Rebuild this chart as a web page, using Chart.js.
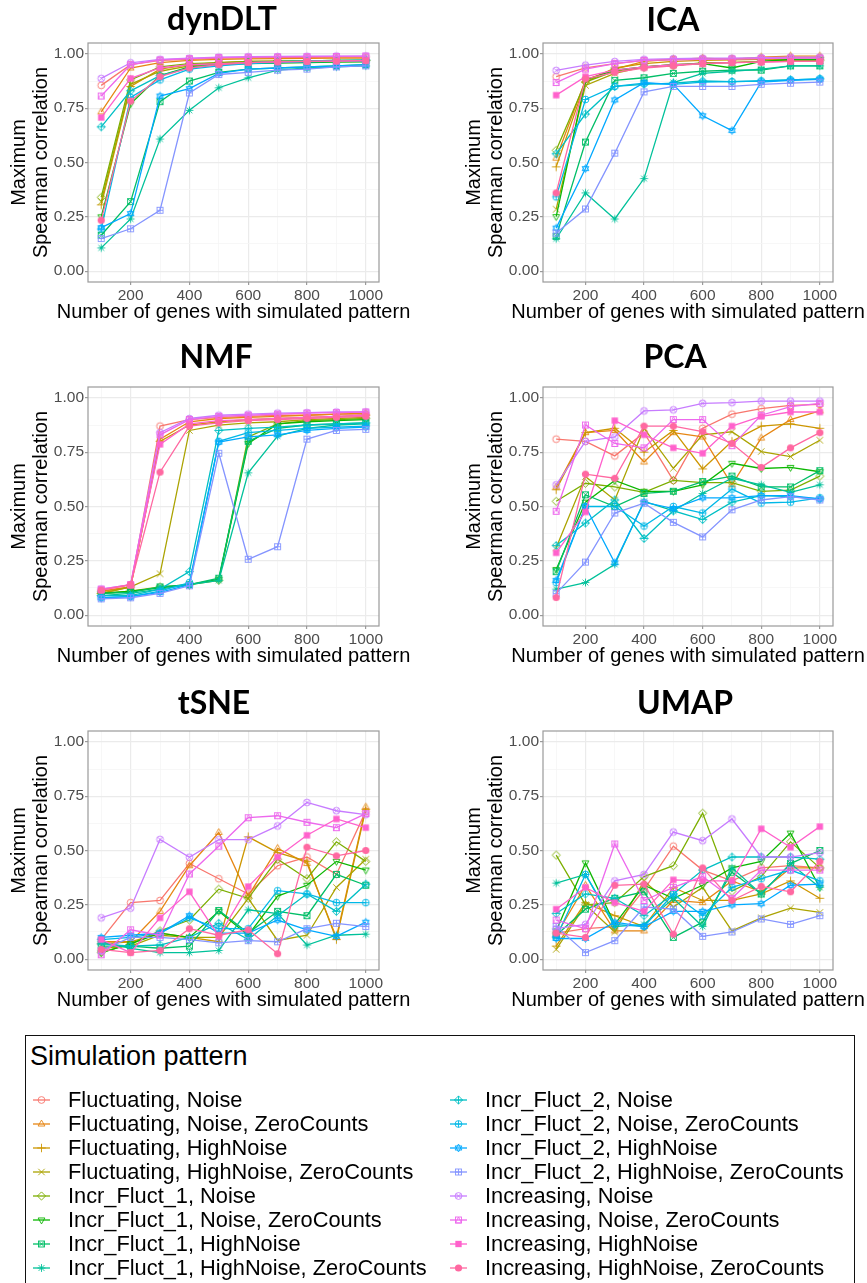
<!DOCTYPE html>
<html>
<head>
<meta charset="utf-8">
<script src="https://cdn.jsdelivr.net/npm/chart.js@4.4.1/dist/chart.umd.min.js"></script>
<style>
  html, body { margin: 0; padding: 0; background: #fff; width: 867px; height: 1283px; overflow: hidden; }
  canvas.panel { position: absolute; }
  #legend { position: absolute; left: 25px; top: 1035px; width: 828px; height: 270px; border: 1.5px solid #111;
            font-family: 'Liberation Sans', Arial, sans-serif; color: #000; }
  #legend .title { position: absolute; left: 4px; top: 5px; font-size: 27px; }
  #legend .item { position: absolute; height: 24px; display: flex; align-items: center; font-size: 21.8px; white-space: nowrap; }
  #legend .item canvas { margin-right: 17px; }
</style>
</head>
<body>
<canvas id="c0" class="panel"></canvas>
<canvas id="c1" class="panel"></canvas>
<canvas id="c2" class="panel"></canvas>
<canvas id="c3" class="panel"></canvas>
<canvas id="c4" class="panel"></canvas>
<canvas id="c5" class="panel"></canvas>
<div id="legend"><div class="title">Simulation pattern</div></div>
<script>
const genes = [100, 200, 300, 400, 500, 600, 700, 800, 900, 1000];
const xTicks = [100, 200, 300, 400, 500, 600, 700, 800, 900, 1000];
const yTicks = [0, 0.125, 0.25, 0.375, 0.5, 0.625, 0.75, 0.875, 1];

const patterns = [
  'Fluctuating, Noise',
  'Fluctuating, Noise, ZeroCounts',
  'Fluctuating, HighNoise',
  'Fluctuating, HighNoise, ZeroCounts',
  'Incr_Fluct_1, Noise',
  'Incr_Fluct_1, Noise, ZeroCounts',
  'Incr_Fluct_1, HighNoise',
  'Incr_Fluct_1, HighNoise, ZeroCounts',
  'Incr_Fluct_2, Noise',
  'Incr_Fluct_2, Noise, ZeroCounts',
  'Incr_Fluct_2, HighNoise',
  'Incr_Fluct_2, HighNoise, ZeroCounts',
  'Increasing, Noise',
  'Increasing, Noise, ZeroCounts',
  'Increasing, HighNoise',
  'Increasing, HighNoise, ZeroCounts'
];

// one row per pattern, one value per gene count
const dynDLT = [
  [0.855, 0.95, 0.97, 0.975, 0.98, 0.982, 0.983, 0.984, 0.985, 0.985],
  [0.733, 0.935, 0.96, 0.97, 0.975, 0.977, 0.978, 0.979, 0.98, 0.98],
  [0.305, 0.85, 0.93, 0.95, 0.96, 0.965, 0.967, 0.968, 0.97, 0.97],
  [0.32, 0.86, 0.92, 0.945, 0.955, 0.96, 0.963, 0.965, 0.967, 0.968],
  [0.34, 0.88, 0.94, 0.955, 0.96, 0.965, 0.967, 0.968, 0.97, 0.97],
  [0.25, 0.77, 0.9, 0.94, 0.95, 0.955, 0.958, 0.96, 0.962, 0.963],
  [0.165, 0.32, 0.78, 0.875, 0.915, 0.93, 0.935, 0.94, 0.945, 0.95],
  [0.107, 0.24, 0.608, 0.74, 0.844, 0.89, 0.925, 0.935, 0.94, 0.945],
  [0.664, 0.83, 0.9, 0.935, 0.95, 0.96, 0.965, 0.968, 0.97, 0.972],
  [0.195, 0.8, 0.88, 0.93, 0.945, 0.955, 0.96, 0.963, 0.965, 0.967],
  [0.2, 0.265, 0.806, 0.84, 0.91, 0.93, 0.935, 0.94, 0.945, 0.95],
  [0.15, 0.195, 0.28, 0.82, 0.905, 0.915, 0.925, 0.93, 0.94, 0.945],
  [0.887, 0.959, 0.975, 0.98, 0.985, 0.987, 0.988, 0.989, 0.99, 0.99],
  [0.806, 0.95, 0.972, 0.978, 0.983, 0.985, 0.986, 0.987, 0.988, 0.99],
  [0.707, 0.887, 0.935, 0.95, 0.955, 0.96, 0.963, 0.965, 0.967, 0.97],
  [0.234, 0.783, 0.895, 0.935, 0.95, 0.96, 0.963, 0.965, 0.967, 0.968]
];

const ICA = [
  [0.895, 0.936, 0.955, 0.97, 0.975, 0.977, 0.978, 0.98, 0.982, 0.983],
  [0.52, 0.88, 0.93, 0.965, 0.975, 0.98, 0.975, 0.985, 0.99, 0.99],
  [0.48, 0.87, 0.935, 0.955, 0.965, 0.97, 0.972, 0.975, 0.975, 0.975],
  [0.285, 0.855, 0.91, 0.94, 0.95, 0.955, 0.96, 0.965, 0.968, 0.97],
  [0.556, 0.87, 0.92, 0.94, 0.945, 0.96, 0.96, 0.965, 0.97, 0.97],
  [0.251, 0.88, 0.925, 0.94, 0.95, 0.955, 0.935, 0.965, 0.975, 0.975],
  [0.16, 0.594, 0.878, 0.89, 0.91, 0.92, 0.925, 0.925, 0.945, 0.945],
  [0.149, 0.36, 0.24, 0.426, 0.868, 0.91, 0.92, 0.93, 0.945, 0.945],
  [0.54, 0.723, 0.85, 0.86, 0.865, 0.875, 0.872, 0.875, 0.88, 0.885],
  [0.342, 0.79, 0.85, 0.865, 0.86, 0.87, 0.872, 0.875, 0.88, 0.885],
  [0.198, 0.472, 0.788, 0.867, 0.86, 0.715, 0.647, 0.87, 0.878, 0.883],
  [0.175, 0.286, 0.543, 0.825, 0.85, 0.85, 0.85, 0.86, 0.865, 0.87],
  [0.924, 0.948, 0.965, 0.975, 0.978, 0.98, 0.98, 0.983, 0.985, 0.985],
  [0.868, 0.93, 0.955, 0.97, 0.972, 0.975, 0.976, 0.978, 0.98, 0.98],
  [0.81, 0.895, 0.925, 0.94, 0.95, 0.955, 0.96, 0.962, 0.965, 0.965],
  [0.36, 0.885, 0.915, 0.935, 0.945, 0.955, 0.96, 0.962, 0.965, 0.965]
];

const NMF = [
  [0.11, 0.13, 0.87, 0.9, 0.91, 0.915, 0.92, 0.92, 0.925, 0.925],
  [0.11, 0.13, 0.81, 0.89, 0.905, 0.91, 0.915, 0.92, 0.925, 0.93],
  [0.1, 0.13, 0.8, 0.875, 0.89, 0.9, 0.905, 0.91, 0.915, 0.92],
  [0.1, 0.13, 0.19, 0.85, 0.875, 0.885, 0.89, 0.9, 0.905, 0.91],
  [0.1, 0.11, 0.13, 0.14, 0.16, 0.82, 0.88, 0.895, 0.9, 0.905],
  [0.1, 0.11, 0.125, 0.14, 0.165, 0.79, 0.88, 0.89, 0.895, 0.9],
  [0.1, 0.105, 0.13, 0.14, 0.17, 0.8, 0.86, 0.875, 0.88, 0.885],
  [0.09, 0.1, 0.12, 0.14, 0.16, 0.655, 0.824, 0.86, 0.875, 0.88],
  [0.09, 0.09, 0.12, 0.2, 0.85, 0.86, 0.865, 0.875, 0.88, 0.885],
  [0.08, 0.085, 0.11, 0.15, 0.8, 0.84, 0.85, 0.86, 0.865, 0.87],
  [0.08, 0.085, 0.105, 0.14, 0.796, 0.82, 0.83, 0.85, 0.86, 0.865],
  [0.075, 0.08, 0.1, 0.135, 0.745, 0.257, 0.315, 0.81, 0.85, 0.855],
  [0.12, 0.14, 0.84, 0.905, 0.92, 0.925, 0.93, 0.932, 0.935, 0.935],
  [0.12, 0.14, 0.83, 0.9, 0.915, 0.92, 0.925, 0.93, 0.932, 0.935],
  [0.115, 0.14, 0.786, 0.88, 0.895, 0.9, 0.905, 0.91, 0.915, 0.92],
  [0.115, 0.14, 0.658, 0.87, 0.885, 0.895, 0.9, 0.905, 0.91, 0.915]
];

const PCA = [
  [0.81, 0.8, 0.733, 0.84, 0.62, 0.86, 0.925, 0.95, 0.965, 0.97],
  [0.59, 0.84, 0.85, 0.705, 0.84, 0.82, 0.6, 0.815, 0.9, 0.94],
  [0.577, 0.84, 0.86, 0.75, 0.85, 0.673, 0.8, 0.87, 0.88, 0.86],
  [0.31, 0.638, 0.53, 0.86, 0.676, 0.83, 0.844, 0.753, 0.73, 0.805],
  [0.524, 0.607, 0.59, 0.565, 0.62, 0.61, 0.61, 0.57, 0.575, 0.64],
  [0.21, 0.52, 0.62, 0.57, 0.57, 0.6, 0.699, 0.675, 0.68, 0.66],
  [0.2, 0.554, 0.5, 0.56, 0.57, 0.615, 0.64, 0.59, 0.59, 0.665],
  [0.12, 0.15, 0.234, 0.524, 0.48, 0.56, 0.63, 0.6, 0.565, 0.6],
  [0.32, 0.424, 0.53, 0.353, 0.48, 0.44, 0.52, 0.55, 0.545, 0.535],
  [0.15, 0.5, 0.5, 0.41, 0.5, 0.47, 0.58, 0.516, 0.52, 0.54],
  [0.16, 0.5, 0.241, 0.52, 0.49, 0.54, 0.54, 0.55, 0.55, 0.535],
  [0.1, 0.244, 0.47, 0.515, 0.427, 0.36, 0.485, 0.53, 0.545, 0.53],
  [0.6, 0.8, 0.82, 0.94, 0.945, 0.975, 0.978, 0.985, 0.985, 0.985],
  [0.478, 0.875, 0.79, 0.77, 0.9, 0.9, 0.78, 0.92, 0.96, 0.975],
  [0.287, 0.475, 0.895, 0.83, 0.77, 0.745, 0.87, 0.915, 0.935, 0.935],
  [0.081, 0.649, 0.63, 0.87, 0.87, 0.845, 0.79, 0.68, 0.77, 0.84]
];

const tSNE = [
  [0.09, 0.26, 0.27, 0.44, 0.37, 0.3, 0.43, 0.47, 0.39, 0.68],
  [0.08, 0.08, 0.22, 0.43, 0.583, 0.29, 0.51, 0.44, 0.1, 0.7],
  [0.07, 0.08, 0.12, 0.1, 0.08, 0.563, 0.49, 0.45, 0.09, 0.69],
  [0.05, 0.06, 0.11, 0.1, 0.1, 0.28, 0.086, 0.11, 0.33, 0.46],
  [0.03, 0.07, 0.13, 0.18, 0.322, 0.28, 0.46, 0.37, 0.54, 0.45],
  [0.03, 0.07, 0.12, 0.1, 0.22, 0.11, 0.29, 0.34, 0.45, 0.41],
  [0.06, 0.06, 0.05, 0.06, 0.224, 0.12, 0.22, 0.2, 0.39, 0.34],
  [0.08, 0.05, 0.03, 0.03, 0.04, 0.227, 0.21, 0.065, 0.11, 0.115],
  [0.07, 0.06, 0.065, 0.1, 0.165, 0.09, 0.2, 0.3, 0.22, 0.345],
  [0.09, 0.1, 0.12, 0.19, 0.14, 0.14, 0.315, 0.3, 0.26, 0.26],
  [0.1, 0.11, 0.12, 0.2, 0.12, 0.12, 0.18, 0.135, 0.105, 0.17],
  [0.04, 0.1, 0.1, 0.09, 0.075, 0.085, 0.08, 0.14, 0.165, 0.15],
  [0.19, 0.235, 0.551, 0.469, 0.55, 0.55, 0.613, 0.721, 0.683, 0.665],
  [0.02, 0.135, 0.11, 0.392, 0.52, 0.651, 0.66, 0.63, 0.605, 0.67],
  [0.09, 0.03, 0.19, 0.31, 0.105, 0.334, 0.47, 0.57, 0.645, 0.605],
  [0.045, 0.03, 0.04, 0.14, 0.11, 0.135, 0.025, 0.515, 0.475, 0.5]
];

const UMAP = [
  [0.12, 0.14, 0.15, 0.32, 0.52, 0.41, 0.36, 0.42, 0.43, 0.42],
  [0.11, 0.34, 0.13, 0.13, 0.27, 0.26, 0.36, 0.31, 0.42, 0.42],
  [0.06, 0.26, 0.2, 0.15, 0.33, 0.27, 0.27, 0.3, 0.36, 0.28],
  [0.045, 0.25, 0.125, 0.36, 0.24, 0.33, 0.13, 0.19, 0.235, 0.215],
  [0.479, 0.25, 0.26, 0.38, 0.43, 0.672, 0.313, 0.38, 0.54, 0.42],
  [0.13, 0.443, 0.16, 0.34, 0.28, 0.34, 0.42, 0.45, 0.58, 0.33],
  [0.11, 0.23, 0.28, 0.31, 0.1, 0.17, 0.4, 0.3, 0.44, 0.5],
  [0.35, 0.39, 0.15, 0.16, 0.28, 0.15, 0.42, 0.3, 0.44, 0.33],
  [0.21, 0.3, 0.28, 0.2, 0.3, 0.41, 0.47, 0.47, 0.47, 0.46],
  [0.1, 0.39, 0.16, 0.15, 0.3, 0.2, 0.33, 0.37, 0.41, 0.36],
  [0.095, 0.095, 0.17, 0.15, 0.22, 0.22, 0.25, 0.255, 0.34, 0.345],
  [0.15, 0.03, 0.085, 0.24, 0.23, 0.105, 0.125, 0.185, 0.16, 0.2],
  [0.14, 0.16, 0.36, 0.39, 0.585, 0.545, 0.645, 0.47, 0.47, 0.49],
  [0.18, 0.14, 0.53, 0.27, 0.33, 0.38, 0.28, 0.41, 0.41, 0.41],
  [0.23, 0.33, 0.26, 0.22, 0.365, 0.36, 0.36, 0.6, 0.515, 0.61],
  [0.12, 0.1, 0.34, 0.345, 0.115, 0.42, 0.27, 0.335, 0.31, 0.45]
];

// ggplot-style hue palette: hcl(h, c = 100, l = 65), hues evenly spaced from 15
function hcl(h, c, l) {
  const rad = h * Math.PI / 180;
  const U = c * Math.cos(rad), V = c * Math.sin(rad);
  const Xn = 95.047, Yn = 100, Zn = 108.883;
  const Y = Yn * Math.pow((l + 16) / 116, 3);
  const den = Xn + 15 * Yn + 3 * Zn;
  const u = U / (13 * l) + 4 * Xn / den;
  const v = V / (13 * l) + 9 * Yn / den;
  const X = Y * 9 * u / (4 * v);
  const Z = Y * (12 - 3 * u - 20 * v) / (4 * v);
  const lin = [
    (3.240479 * X - 1.537150 * Y - 0.498535 * Z) / 100,
    (-0.969256 * X + 1.875992 * Y + 0.041556 * Z) / 100,
    (0.055648 * X - 0.204043 * Y + 1.057311 * Z) / 100
  ];
  const hex = lin.map(t => {
    let s = t <= 0.0031308 ? 12.92 * t : 1.055 * Math.pow(t, 1 / 2.4) - 0.055;
    s = Math.max(0, Math.min(1, s));
    return Math.round(s * 255).toString(16).padStart(2, '0');
  });
  return '#' + hex.join('');
}
const colors = patterns.map((p, i) => hcl(15 + 360 / patterns.length * i, 100, 65));

// draws R pch-like shapes 1..16 onto a small canvas
function drawShape(g, shape, cx, cy, r) {
  const line = (x1, y1, x2, y2) => { g.beginPath(); g.moveTo(x1, y1); g.lineTo(x2, y2); g.stroke(); };
  const circle = (fill) => { g.beginPath(); g.arc(cx, cy, r, 0, 2 * Math.PI); fill ? g.fill() : g.stroke(); };
  const sq = r * 0.88;
  const square = (fill) => fill ? g.fillRect(cx - sq, cy - sq, 2 * sq, 2 * sq) : g.strokeRect(cx - sq, cy - sq, 2 * sq, 2 * sq);
  const tri = (dir) => {
    g.beginPath();
    g.moveTo(cx, cy - dir * r * 1.15);
    g.lineTo(cx - r, cy + dir * r * 0.6);
    g.lineTo(cx + r, cy + dir * r * 0.6);
    g.closePath(); g.stroke();
  };
  const diamond = () => {
    g.beginPath();
    g.moveTo(cx, cy - r * 1.2); g.lineTo(cx + r * 1.2, cy); g.lineTo(cx, cy + r * 1.2); g.lineTo(cx - r * 1.2, cy);
    g.closePath(); g.stroke();
  };
  const plus = (k) => { line(cx - k, cy, cx + k, cy); line(cx, cy - k, cx, cy + k); };
  const cross = (k) => { line(cx - k, cy - k, cx + k, cy + k); line(cx - k, cy + k, cx + k, cy - k); };
  switch (shape) {
    case 1: circle(false); break;
    case 2: tri(1); break;
    case 3: plus(r * 1.25); break;
    case 4: cross(r * 0.95); break;
    case 5: diamond(); break;
    case 6: tri(-1); break;
    case 7: square(false); cross(sq); break;
    case 8: plus(r * 1.15); cross(r * 0.85); break;
    case 9: diamond(); plus(r * 1.2); break;
    case 10: circle(false); plus(r); break;
    case 11: tri(1); tri(-1); break;
    case 12: square(false); plus(sq); break;
    case 13: circle(false); cross(r * 0.7); break;
    case 14:
      square(false);
      g.beginPath(); g.moveTo(cx, cy - sq); g.lineTo(cx - sq, cy + sq); g.lineTo(cx + sq, cy + sq); g.closePath(); g.stroke();
      break;
    case 15: square(true); break;
    case 16: circle(true); break;
  }
}

function makeMarker(shape, color) {
  const cv = document.createElement('canvas');
  cv.width = 13; cv.height = 13;
  const g = cv.getContext('2d');
  g.strokeStyle = color; g.fillStyle = color; g.lineWidth = 0.9;
  drawShape(g, shape, 6.5, 6.5, shape >= 15 ? 3.6 : 3.4);
  return cv;
}
const markers = patterns.map((p, i) => makeMarker(i + 1, colors[i]));

const textFamily = "'Liberation Sans', Arial, sans-serif";

// panel frame, panel heading and x axis title (drawn here so it can run wider than the panel)
const panelFrame = {
  id: 'panelFrame',
  afterDraw(chart, args, opts) {
    const { ctx, chartArea: a } = chart;
    ctx.save();
    ctx.strokeStyle = '#9a9a9a';
    ctx.lineWidth = 1.2;
    ctx.strokeRect(a.left, a.top, a.right - a.left, a.bottom - a.top);
    ctx.fillStyle = '#000';
    ctx.textAlign = 'center';
    ctx.textBaseline = 'alphabetic';
    ctx.font = '700 32px Lato, "Open Sans", sans-serif';
    ctx.fillText(opts.text, opts.x, opts.y);
    ctx.font = '20px ' + textFamily;
    ctx.textBaseline = 'middle';
    ctx.fillText(opts.xTitle, (a.left + a.right) / 2, a.bottom + 30.5);
    ctx.restore();
  }
};

const isMajorY = v => Math.abs(v * 4 - Math.round(v * 4)) < 1e-6;
const isMajorX = v => v % 200 === 0;
const tickFont = { family: textFamily, size: 15.5 };
const titleFont = { family: textFamily, size: 20, lineHeight: 1.08 };

const panels = [
  { name: 'dynDLT', values: dynDLT, col: 0, row: 0, tx: 222, ty: 30 },
  { name: 'ICA', values: ICA, col: 1, row: 0, tx: 673, ty: 31 },
  { name: 'NMF', values: NMF, col: 0, row: 1, tx: 216, ty: 368 },
  { name: 'PCA', values: PCA, col: 1, row: 1, tx: 675, ty: 368 },
  { name: 'tSNE', values: tSNE, col: 0, row: 2, tx: 214, ty: 714 },
  { name: 'UMAP', values: UMAP, col: 1, row: 2, tx: 685, ty: 714 }
];
const colLeft = [0, 433], colWidth = [433, 434], axisWidth = [88, 110], padRight = [54, 34];
const rowTop = [0, 344, 688], canvasHeight = 326;

panels.forEach((p, k) => {
  const cv = document.getElementById('c' + k);
  const left = colLeft[p.col], top = rowTop[p.row];
  cv.width = colWidth[p.col]; cv.height = canvasHeight;
  cv.style.left = left + 'px'; cv.style.top = top + 'px';
  const yw = axisWidth[p.col];

  new Chart(cv, {
    type: 'line',
    data: {
      datasets: patterns.map((name, i) => ({
        label: name,
        data: p.values[i].map((v, j) => ({ x: genes[j], y: v })),
        borderColor: colors[i],
        backgroundColor: colors[i],
        borderWidth: 1.3,
        pointStyle: markers[i],
        pointRadius: 4,
        tension: 0,
        order: patterns.length - i
      }))
    },
    options: {
      responsive: false,
      animation: false,
      devicePixelRatio: 1,
      layout: { padding: { left: 0, top: 43, right: padRight[p.col], bottom: 0 } },
      plugins: {
        legend: { display: false },
        tooltip: { enabled: false },
        panelFrame: {
          text: p.name, x: p.tx - left, y: p.ty - top,
          xTitle: 'Number of genes with simulated pattern'
        }
      },
      scales: {
        x: {
          type: 'linear', min: 55, max: 1045,
          afterBuildTicks: s => { s.ticks = xTicks.map(v => ({ value: v })); },
          afterFit: s => { s.height = 44; },
          ticks: {
            autoSkip: false, maxRotation: 0, padding: 1, color: '#4d4d4d', font: tickFont,
            callback: v => isMajorX(v) ? String(v) : ''
          },
          grid: {
            color: c => isMajorX(c.tick.value) ? '#ebebeb' : '#f5f5f5',
            lineWidth: c => isMajorX(c.tick.value) ? 1.2 : 0.8,
            drawTicks: true, tickLength: 3,
            tickColor: c => isMajorX(c.tick.value) ? '#9a9a9a' : 'rgba(0,0,0,0)'
          },
          border: { display: false },
          title: { display: false }
        },
        y: {
          type: 'linear', min: -0.05, max: 1.05,
          afterBuildTicks: s => { s.ticks = yTicks.map(v => ({ value: v })); },
          afterFit: s => { s.width = yw; },
          ticks: {
            autoSkip: false, padding: 1, color: '#4d4d4d', font: tickFont,
            callback: v => isMajorY(v) ? v.toFixed(2) : ''
          },
          grid: {
            color: c => isMajorY(c.tick.value) ? '#ebebeb' : '#f5f5f5',
            lineWidth: c => isMajorY(c.tick.value) ? 1.2 : 0.8,
            drawTicks: true, tickLength: 3,
            tickColor: c => isMajorY(c.tick.value) ? '#9a9a9a' : 'rgba(0,0,0,0)'
          },
          border: { display: false },
          title: {
            display: true, text: ['Maximum', 'Spearman correlation'],
            color: '#000', font: titleFont, padding: { top: yw - 79, bottom: 0 }
          }
        }
      }
    },
    plugins: [panelFrame]
  });
});

// legend: two columns of eight, line + marker swatch
const legendBox = document.getElementById('legend');
patterns.forEach((name, i) => {
  const col = Math.floor(i / 8), row = i % 8;
  const item = document.createElement('div');
  item.className = 'item';
  item.style.left = (col ? 423 : 6) + 'px';
  item.style.top = (52 + row * 24) + 'px';
  const sw = document.createElement('canvas');
  sw.width = 19; sw.height = 14;
  const g = sw.getContext('2d');
  g.strokeStyle = colors[i]; g.fillStyle = colors[i];
  g.lineWidth = 1.3;
  g.beginPath(); g.moveTo(1, 7); g.lineTo(18, 7); g.stroke();
  g.lineWidth = 0.9;
  drawShape(g, i + 1, 9.5, 7, i >= 14 ? 3.6 : 3.4);
  item.appendChild(sw);
  const label = document.createElement('span');
  label.textContent = name;
  item.appendChild(label);
  legendBox.appendChild(item);
});
</script>
</body>
</html>
